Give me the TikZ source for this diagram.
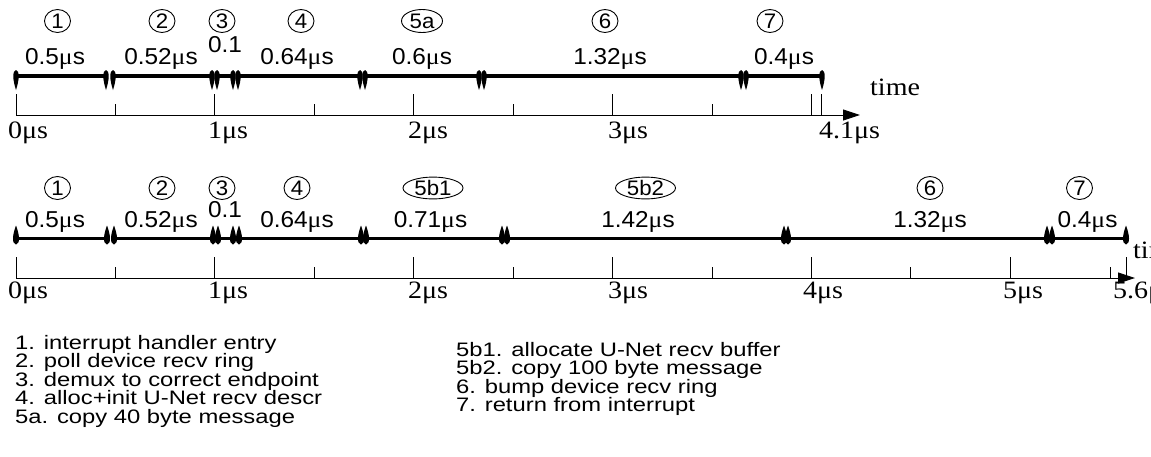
\documentclass[tikz,border=0pt]{standalone}
\usepackage{fontspec}
\setmainfont{Liberation Serif}
\newfontfamily\hel[FakeStretch=1.06]{Liberation Sans}
\newfontfamily\helleg[FakeStretch=1.22]{Liberation Sans}
\newfontfamily\tim[FakeStretch=1.12]{Liberation Serif}
\newcommand\usec{{\tim μ}s}
\usetikzlibrary{arrows.meta,shapes.geometric}
\begin{document}
\begin{tikzpicture}[x=1pt,y=-1pt,
  seg/.style={line width=3.4pt},
  axisline/.style={line width=0.9pt,-{Triangle[length=17pt,width=11pt]}},
  tickline/.style={line width=0.9pt},
  dur/.style={font=\hel\fontsize{23}{23}\selectfont,inner sep=0pt,anchor=base},
  num/.style={draw,ellipse,line width=0.9pt,minimum width=26pt,minimum height=23pt,inner sep=0pt,font=\hel\fontsize{21}{21}\selectfont},
  tlab/.style={font=\tim\fontsize{25}{25}\selectfont,inner sep=0pt,anchor=base west},
  leg/.style={font=\helleg\fontsize{19.5}{18.5}\selectfont,inner sep=0pt,anchor=base west},
  mkdown/.pic={\fill (0,-6) .. controls (3.6,-5) and (3.6,3) .. (0,14) .. controls (-3.6,3) and (-3.6,-5) .. (0,-6) -- cycle;},
  mkup/.pic={\fill (0,6) .. controls (4.2,5) and (3.8,-3) .. (0,-13) .. controls (-3.8,-3) and (-4.2,5) .. (0,6) -- cycle;},
]
\useasboundingbox (0,0) rectangle (1151,456);

% ---------------- top timeline ----------------
\foreach \n/\a/\b in {A1/16/106,A2/113/212,A3/217/233,A4/238/360,A5/365/479,A6/484/741,A7/746/822}{
  \coordinate (\n s) at (\a,76);
  \coordinate (\n e) at (\b,76);
  \draw[seg] (\n s) -- (\n e);
  \pic at (\n s) {mkdown};
  \pic at (\n e) {mkdown};
}
\coordinate (ax0) at (16,115);
\coordinate (ax1) at (860,115);
\draw[axisline] (ax0) -- (ax1);
\foreach \x in {16,214,413,612,811.7,821.7}{\draw[tickline] (\x,94) -- (\x,115);}
\foreach \x in {115,314,513,712}{\draw[tickline] (\x,104) -- (\x,115);}

\node[num] (c1) at (57.5,21) {1};
\node[num] (c2) at (162,21) {2};
\node[num] (c3) at (222,21) {3};
\node[num] (c4) at (301,21) {4};
\node[num,minimum width=41pt] (c5a) at (422,21) {5a};
\node[num] (c6) at (605,21) {6};
\node[num] (c7) at (770,21) {7};

\node[dur] (d1) at (55,64) {0.5\usec};
\node[dur] (d2) at (161,64) {0.52\usec};
\node[dur] (d3) at (225,52) {0.1};
\node[dur] (d4) at (297,64) {0.64\usec};
\node[dur] (d5a) at (422,64) {0.6\usec};
\node[dur] (d6) at (610,64) {1.32\usec};
\node[dur] (d7) at (784,64) {0.4\usec};

\node[tlab] (l0) at (8,138) {0\usec};
\node[tlab] (l1) at (208,138) {1\usec};
\node[tlab] (l2) at (408,138) {2\usec};
\node[tlab] (l3) at (608,138) {3\usec};
\node[tlab] (l41) at (819,138) {4.1\usec};
\node[tlab] (time1) at (870,95) {time};

% ---------------- bottom timeline ----------------
\foreach \n/\a/\b in {B1/16/107,B2/114/213,B3/218/233,B4/239/361,B5/366/502,B6/507/784,B7/788/1047,B8/1052/1126}{
  \coordinate (\n s) at (\a,238.5);
  \coordinate (\n e) at (\b,238.5);
  \draw[seg] (\n s) -- (\n e);
  \pic at (\n s) {mkup};
  \pic at (\n e) {mkup};
}
\coordinate (bx0) at (16,278);
\coordinate (bx1) at (1135,278);
\draw[axisline] (bx0) -- (bx1);
\foreach \x in {16,214,413,612,811.7,1010,1126}{\draw[tickline] (\x,257) -- (\x,278);}
\foreach \x in {115,314,513,712,910,1110}{\draw[tickline] (\x,267) -- (\x,278);}

\node[num] (e1) at (57.5,188) {1};
\node[num] (e2) at (162,188) {2};
\node[num] (e3) at (222,188) {3};
\node[num] (e4) at (297,188) {4};
\node[num,minimum width=60pt,minimum height=21pt] (e5b1) at (433,188) {5b1};
\node[num,minimum width=60pt,minimum height=21pt] (e5b2) at (645.5,188) {5b2};
\node[num] (e6) at (930,188) {6};
\node[num] (e7) at (1079.5,188) {7};

\node[dur] (f1) at (55,227) {0.5\usec};
\node[dur] (f2) at (161,227) {0.52\usec};
\node[dur] (f3) at (225,217) {0.1};
\node[dur] (f4) at (297,227) {0.64\usec};
\node[dur] (f5b1) at (430.5,227) {0.71\usec};
\node[dur] (f5b2) at (638,227) {1.42\usec};
\node[dur] (f6) at (930,227) {1.32\usec};
\node[dur] (f7) at (1087.5,227) {0.4\usec};

\node[tlab] (m0) at (8,298) {0\usec};
\node[tlab] (m1) at (208,298) {1\usec};
\node[tlab] (m2) at (408,298) {2\usec};
\node[tlab] (m3) at (608,298) {3\usec};
\node[tlab] (m4) at (803,298) {4\usec};
\node[tlab] (m5) at (1003,298) {5\usec};
\node[tlab] (m56) at (1113,298) {5.6\usec};
\node[tlab] (time2) at (1133,258) {time};

% ---------------- legend ----------------
\node[leg] (g1) at (15,349) {1. interrupt handler entry};
\node[leg] (g2) at (15,367.5) {2. poll device recv ring};
\node[leg] (g3) at (15,386) {3. demux to correct endpoint};
\node[leg] (g4) at (15,404.5) {4. alloc+init U-Net recv descr};
\node[leg] (g5) at (15,423) {5a. copy 40 byte message};
\node[leg] (h1) at (456,356) {5b1. allocate U-Net recv buffer};
\node[leg] (h2) at (456,374.5) {5b2. copy 100 byte message};
\node[leg] (h3) at (456,393) {6. bump device recv ring};
\node[leg] (h4) at (456,411.5) {7. return from interrupt};
\end{tikzpicture}
\end{document}
